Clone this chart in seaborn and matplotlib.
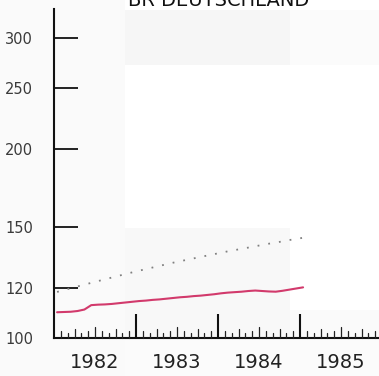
import numpy as np
import pandas as pd
import matplotlib
matplotlib.use("Agg")
import matplotlib.pyplot as plt
import matplotlib.ticker as mticker
from matplotlib.patches import Rectangle
import seaborn as sns

# ---- data (monthly index values, Jan 1982 .. Jan 1985) ----
title = "BR DEUTSCHLAND"
year_labels = ["1982", "1983", "1984", "1985"]
y_ticks = [100, 120, 150, 200, 250, 300]

red_series = [109.9, 110.0, 110.1, 110.4, 111.0, 112.8, 113.0, 113.1, 113.3,
              113.6, 113.9, 114.2, 114.5, 114.7, 115.0, 115.2, 115.5, 115.8,
              116.1, 116.3, 116.6, 116.8, 117.1, 117.4, 117.8, 118.1, 118.3,
              118.5, 118.8, 119.0, 118.8, 118.6, 118.5, 118.9, 119.4, 119.9,
              120.4]
dotted_series = [118.4, 119.2, 120.0, 120.8, 121.6, 122.4, 123.2, 124.0, 124.8,
                 125.6, 126.4, 127.2, 128.0, 128.7, 129.5, 130.3, 131.0, 131.8,
                 132.5, 133.2, 133.9, 134.6, 135.3, 136.0, 136.7, 137.4, 138.0,
                 138.7, 139.3, 140.0, 140.6, 141.3, 141.9, 142.5, 143.2, 143.8,
                 144.4]
months = np.arange(len(red_series)) + 0.45  # mid-month positions (months since Jan 1982)

df = pd.DataFrame({"month": months, "red": red_series, "dotted": dotted_series})

sns.set_theme(style="white")
plt.rcParams["font.family"] = ["DejaVu Sans"]

W, H = 379, 376
fig = plt.figure(figsize=(W / 100, H / 100), dpi=100, facecolor="white")

# faint scan-like background patches (figure pixel coords)
def patch(x0, y0, x1, y1, c):
    fig.patches.append(Rectangle((x0 / W, 1 - y1 / H), (x1 - x0) / W, (y1 - y0) / H,
                                 transform=fig.transFigure, facecolor=c,
                                 edgecolor="none", zorder=-10))
patch(0, 0, 125, 376, "#fafafa")
patch(125, 10, 290, 65, "#f6f6f6")
patch(290, 10, 379, 65, "#fbfbfb")
patch(125, 228, 290, 340, "#f8f8f8")
patch(290, 310, 379, 340, "#fafafa")
patch(125, 340, 379, 376, "#fbfbfb")

ax_left, ax_right, ax_top, ax_bottom = 54, 379, 9, 338
ax = fig.add_axes([ax_left / W, 1 - ax_bottom / H, (ax_right - ax_left) / W,
                   (ax_bottom - ax_top) / H])
ax.set_facecolor("none")
ax.set_zorder(5)

sns.lineplot(data=df, x="month", y="dotted", ax=ax, color="#808080",
             linewidth=1.3, linestyle=(0, (1, 5)), zorder=3)
sns.lineplot(data=df, x="month", y="red", ax=ax, color="#d23a6c",
             linewidth=1.5, zorder=4)

ax.set_yscale("log")
ax.set_ylim(100, 334)
ax.set_xlim(0, (ax_right - ax_left) / (82 / 12))

# y axis ticks
ax.yaxis.set_major_locator(mticker.FixedLocator(y_ticks))
ax.yaxis.set_major_formatter(mticker.FixedFormatter([str(v) for v in y_ticks]))
ax.yaxis.set_minor_locator(mticker.NullLocator())
ax.tick_params(axis="y", which="major", direction="in", length=17, width=1.3,
               color="#111111", pad=15, labelsize=10.5, labelcolor="#3a3a3a",
               left=True)

# x axis ticks: years (major), half-years, quarters, months
ax.set_xticks([12, 24, 36])
ax.set_xticklabels([])
ax.tick_params(axis="x", which="major", direction="in", length=17, width=1.5,
               color="#111111", bottom=True)
ax.xaxis.set_minor_locator(mticker.NullLocator())
nmon = 48
for m in range(1, nmon):
    if m % 12 == 0:
        continue
    if m % 6 == 0:
        L = 11
    elif m % 3 == 0:
        L = 9
    elif m % 2 == 1:
        L = 7
    else:
        L = 5
    ax.plot([m, m], [0, L / (ax_bottom - ax_top)], transform=ax.get_xaxis_transform(),
            color="#222222", linewidth=0.9, clip_on=False, zorder=5)

# year labels centred mid-year
for i, lab in enumerate(year_labels):
    ax.text(6 + 12 * i, -15 / (ax_bottom - ax_top), lab, transform=ax.get_xaxis_transform(),
            ha="center", va="top", fontsize=14, color="#222222")

ax.set_xlabel("")
ax.set_ylabel("")
for s in ["top", "right"]:
    ax.spines[s].set_visible(False)
for s in ["left", "bottom"]:
    ax.spines[s].set_color("#111111")
    ax.spines[s].set_linewidth(1.5)

fig.text(219 / W, 1 - 6 / H, title, ha="center", va="baseline", fontsize=14,
         color="#111111")

fig.savefig("out.png", dpi=100, facecolor=fig.get_facecolor())
